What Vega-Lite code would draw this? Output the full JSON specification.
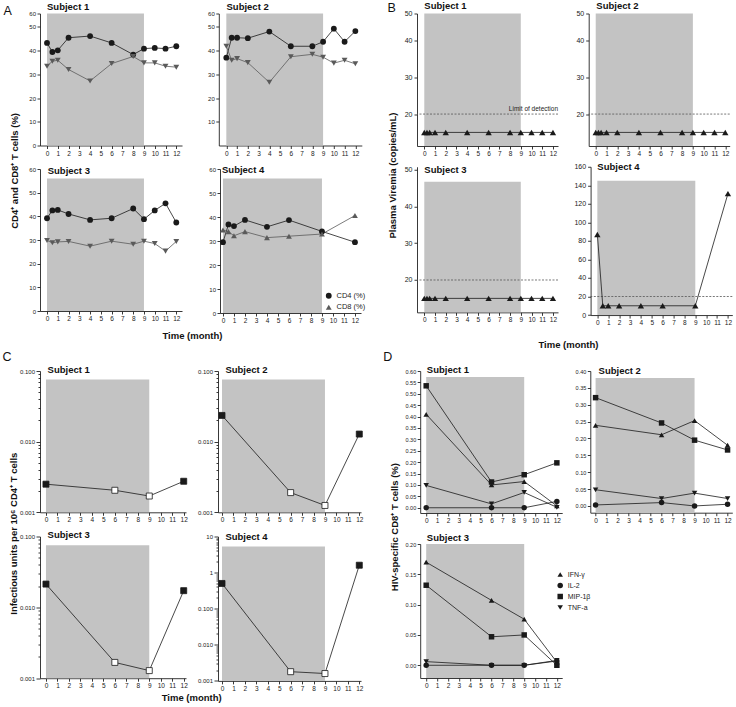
{
"$schema":"https://vega.github.io/schema/vega-lite/v6.json",
"padding":{"left":2,"top":0.5,"right":2,"bottom":2},
"datasets":{
"art":[{"start":0,"end":9}],
"limit":[{"limit":20,"label":"Limit of detection"}],
"cd":[
{"subject":1,"month":0,"series":"CD4 (%)","value":43.2},{"subject":1,"month":0.5,"series":"CD4 (%)","value":39.4},{"subject":1,"month":1,"series":"CD4 (%)","value":40.1},{"subject":1,"month":2,"series":"CD4 (%)","value":45.4},{"subject":1,"month":4,"series":"CD4 (%)","value":46.1},{"subject":1,"month":6,"series":"CD4 (%)","value":43.2},{"subject":1,"month":8,"series":"CD4 (%)","value":38.3},{"subject":1,"month":9,"series":"CD4 (%)","value":40.8},{"subject":1,"month":10,"series":"CD4 (%)","value":41.1},{"subject":1,"month":11,"series":"CD4 (%)","value":40.8},{"subject":1,"month":12,"series":"CD4 (%)","value":41.8},
{"subject":1,"month":0,"series":"CD8 (%)","value":33.4},{"subject":1,"month":0.5,"series":"CD8 (%)","value":35.5},{"subject":1,"month":1,"series":"CD8 (%)","value":35.9},{"subject":1,"month":2,"series":"CD8 (%)","value":32.0},{"subject":1,"month":4,"series":"CD8 (%)","value":27.2},{"subject":1,"month":6,"series":"CD8 (%)","value":34.5},{"subject":1,"month":8,"series":"CD8 (%)","value":37.5},{"subject":1,"month":9,"series":"CD8 (%)","value":34.8},{"subject":1,"month":10,"series":"CD8 (%)","value":34.8},{"subject":1,"month":11,"series":"CD8 (%)","value":33.4},{"subject":1,"month":12,"series":"CD8 (%)","value":33.0},
{"subject":2,"month":0,"series":"CD4 (%)","value":37.0},{"subject":2,"month":0.5,"series":"CD4 (%)","value":45.4},{"subject":2,"month":1,"series":"CD4 (%)","value":45.4},{"subject":2,"month":2,"series":"CD4 (%)","value":45.2},{"subject":2,"month":4,"series":"CD4 (%)","value":48.0},{"subject":2,"month":6,"series":"CD4 (%)","value":41.8},{"subject":2,"month":8,"series":"CD4 (%)","value":41.8},{"subject":2,"month":9,"series":"CD4 (%)","value":43.7},{"subject":2,"month":10,"series":"CD4 (%)","value":49.2},{"subject":2,"month":11,"series":"CD4 (%)","value":43.7},{"subject":2,"month":12,"series":"CD4 (%)","value":48.2},
{"subject":2,"month":0,"series":"CD8 (%)","value":41.8},{"subject":2,"month":0.5,"series":"CD8 (%)","value":35.9},{"subject":2,"month":1,"series":"CD8 (%)","value":36.6},{"subject":2,"month":2,"series":"CD8 (%)","value":34.9},{"subject":2,"month":4,"series":"CD8 (%)","value":26.6},{"subject":2,"month":6,"series":"CD8 (%)","value":37.4},{"subject":2,"month":8,"series":"CD8 (%)","value":38.4},{"subject":2,"month":9,"series":"CD8 (%)","value":37.2},{"subject":2,"month":10,"series":"CD8 (%)","value":34.7},{"subject":2,"month":11,"series":"CD8 (%)","value":35.9},{"subject":2,"month":12,"series":"CD8 (%)","value":34.4},
{"subject":3,"month":0,"series":"CD4 (%)","value":39.2},{"subject":3,"month":0.5,"series":"CD4 (%)","value":42.5},{"subject":3,"month":1,"series":"CD4 (%)","value":42.7},{"subject":3,"month":2,"series":"CD4 (%)","value":41.0},{"subject":3,"month":4,"series":"CD4 (%)","value":38.5},{"subject":3,"month":6,"series":"CD4 (%)","value":39.2},{"subject":3,"month":8,"series":"CD4 (%)","value":43.3},{"subject":3,"month":9,"series":"CD4 (%)","value":38.8},{"subject":3,"month":10,"series":"CD4 (%)","value":42.5},{"subject":3,"month":11,"series":"CD4 (%)","value":45.5},{"subject":3,"month":12,"series":"CD4 (%)","value":37.4},
{"subject":3,"month":0,"series":"CD8 (%)","value":29.8},{"subject":3,"month":0.5,"series":"CD8 (%)","value":28.8},{"subject":3,"month":1,"series":"CD8 (%)","value":29.2},{"subject":3,"month":2,"series":"CD8 (%)","value":29.4},{"subject":3,"month":4,"series":"CD8 (%)","value":27.4},{"subject":3,"month":6,"series":"CD8 (%)","value":29.5},{"subject":3,"month":8,"series":"CD8 (%)","value":28.2},{"subject":3,"month":9,"series":"CD8 (%)","value":29.5},{"subject":3,"month":10,"series":"CD8 (%)","value":28.5},{"subject":3,"month":11,"series":"CD8 (%)","value":25.3},{"subject":3,"month":12,"series":"CD8 (%)","value":29.4},
{"subject":4,"month":0,"series":"CD4 (%)","value":29.5},{"subject":4,"month":0.5,"series":"CD4 (%)","value":36.9},{"subject":4,"month":1,"series":"CD4 (%)","value":36.2},{"subject":4,"month":2,"series":"CD4 (%)","value":38.8},{"subject":4,"month":4,"series":"CD4 (%)","value":35.9},{"subject":4,"month":6,"series":"CD4 (%)","value":38.7},{"subject":4,"month":9,"series":"CD4 (%)","value":34.0},{"subject":4,"month":12,"series":"CD4 (%)","value":29.5},
{"subject":4,"month":0,"series":"CD8 (%)","value":34.6},{"subject":4,"month":0.5,"series":"CD8 (%)","value":33.9},{"subject":4,"month":1,"series":"CD8 (%)","value":32.2},{"subject":4,"month":2,"series":"CD8 (%)","value":33.9},{"subject":4,"month":4,"series":"CD8 (%)","value":31.4},{"subject":4,"month":6,"series":"CD8 (%)","value":32.0},{"subject":4,"month":9,"series":"CD8 (%)","value":32.9},{"subject":4,"month":12,"series":"CD8 (%)","value":40.6}
],
"vir":[
{"subject":1,"month":0,"value":15},{"subject":1,"month":0.25,"value":15},{"subject":1,"month":0.5,"value":15},{"subject":1,"month":1,"value":15},{"subject":1,"month":2,"value":15},{"subject":1,"month":4,"value":15},{"subject":1,"month":6,"value":15},{"subject":1,"month":8,"value":15},{"subject":1,"month":9,"value":15},{"subject":1,"month":10,"value":15},{"subject":1,"month":11,"value":15},{"subject":1,"month":12,"value":15},
{"subject":2,"month":0,"value":15},{"subject":2,"month":0.25,"value":15},{"subject":2,"month":0.5,"value":15},{"subject":2,"month":1,"value":15},{"subject":2,"month":2,"value":15},{"subject":2,"month":4,"value":15},{"subject":2,"month":6,"value":15},{"subject":2,"month":8,"value":15},{"subject":2,"month":9,"value":15},{"subject":2,"month":10,"value":15},{"subject":2,"month":11,"value":15},{"subject":2,"month":12,"value":15},
{"subject":3,"month":0,"value":15},{"subject":3,"month":0.25,"value":15},{"subject":3,"month":0.5,"value":15},{"subject":3,"month":1,"value":15},{"subject":3,"month":2,"value":15},{"subject":3,"month":4,"value":15},{"subject":3,"month":6,"value":15},{"subject":3,"month":8,"value":15},{"subject":3,"month":9,"value":15},{"subject":3,"month":10,"value":15},{"subject":3,"month":11,"value":15},{"subject":3,"month":12,"value":15},
{"subject":4,"month":0,"value":87},{"subject":4,"month":0.5,"value":10},{"subject":4,"month":1,"value":10},{"subject":4,"month":2,"value":10},{"subject":4,"month":4,"value":10},{"subject":4,"month":6,"value":10},{"subject":4,"month":9,"value":10},{"subject":4,"month":12,"value":131}
],
"iu":[
{"subject":1,"month":0,"value":0.0025,"detected":"yes"},{"subject":1,"month":6,"value":0.00205,"detected":"no"},{"subject":1,"month":9,"value":0.0017,"detected":"no"},{"subject":1,"month":12,"value":0.00275,"detected":"yes"},
{"subject":2,"month":0,"value":0.0235,"detected":"yes"},{"subject":2,"month":6,"value":0.0019,"detected":"no"},{"subject":2,"month":9,"value":0.00125,"detected":"no"},{"subject":2,"month":12,"value":0.0128,"detected":"yes"},
{"subject":3,"month":0,"value":0.0213,"detected":"yes"},{"subject":3,"month":6,"value":0.00167,"detected":"no"},{"subject":3,"month":9,"value":0.00128,"detected":"no"},{"subject":3,"month":12,"value":0.0172,"detected":"yes"},
{"subject":4,"month":0,"value":0.5,"detected":"yes"},{"subject":4,"month":6,"value":0.0018,"detected":"no"},{"subject":4,"month":9,"value":0.0016,"detected":"no"},{"subject":4,"month":12,"value":1.6,"detected":"yes"}
],
"cyto":[
{"subject":1,"month":0,"cytokine":"IFN-γ","value":0.41},{"subject":1,"month":6,"cytokine":"IFN-γ","value":0.10},{"subject":1,"month":9,"cytokine":"IFN-γ","value":0.115},{"subject":1,"month":12,"cytokine":"IFN-γ","value":0.008},
{"subject":1,"month":0,"cytokine":"IL-2","value":0},{"subject":1,"month":6,"cytokine":"IL-2","value":0},{"subject":1,"month":9,"cytokine":"IL-2","value":0},{"subject":1,"month":12,"cytokine":"IL-2","value":0.028},
{"subject":1,"month":0,"cytokine":"MIP-1β","value":0.535},{"subject":1,"month":6,"cytokine":"MIP-1β","value":0.113},{"subject":1,"month":9,"cytokine":"MIP-1β","value":0.145},{"subject":1,"month":12,"cytokine":"MIP-1β","value":0.197},
{"subject":1,"month":0,"cytokine":"TNF-a","value":0.098},{"subject":1,"month":6,"cytokine":"TNF-a","value":0.017},{"subject":1,"month":9,"cytokine":"TNF-a","value":0.067},{"subject":1,"month":12,"cytokine":"TNF-a","value":0.002},
{"subject":2,"month":0,"cytokine":"IFN-γ","value":0.239},{"subject":2,"month":6,"cytokine":"IFN-γ","value":0.211},{"subject":2,"month":9,"cytokine":"IFN-γ","value":0.253},{"subject":2,"month":12,"cytokine":"IFN-γ","value":0.18},
{"subject":2,"month":0,"cytokine":"IL-2","value":0.003},{"subject":2,"month":6,"cytokine":"IL-2","value":0.01},{"subject":2,"month":9,"cytokine":"IL-2","value":0.0},{"subject":2,"month":12,"cytokine":"IL-2","value":0.005},
{"subject":2,"month":0,"cytokine":"MIP-1β","value":0.321},{"subject":2,"month":6,"cytokine":"MIP-1β","value":0.246},{"subject":2,"month":9,"cytokine":"MIP-1β","value":0.195},{"subject":2,"month":12,"cytokine":"MIP-1β","value":0.166},
{"subject":2,"month":0,"cytokine":"TNF-a","value":0.048},{"subject":2,"month":6,"cytokine":"TNF-a","value":0.022},{"subject":2,"month":9,"cytokine":"TNF-a","value":0.038},{"subject":2,"month":12,"cytokine":"TNF-a","value":0.022},
{"subject":3,"month":0,"cytokine":"IFN-γ","value":0.17},{"subject":3,"month":6,"cytokine":"IFN-γ","value":0.107},{"subject":3,"month":9,"cytokine":"IFN-γ","value":0.076},{"subject":3,"month":12,"cytokine":"IFN-γ","value":0.005},
{"subject":3,"month":0,"cytokine":"IL-2","value":0},{"subject":3,"month":6,"cytokine":"IL-2","value":0},{"subject":3,"month":9,"cytokine":"IL-2","value":0},{"subject":3,"month":12,"cytokine":"IL-2","value":0.007},
{"subject":3,"month":0,"cytokine":"MIP-1β","value":0.132},{"subject":3,"month":6,"cytokine":"MIP-1β","value":0.047},{"subject":3,"month":9,"cytokine":"MIP-1β","value":0.05},{"subject":3,"month":12,"cytokine":"MIP-1β","value":0.0},
{"subject":3,"month":0,"cytokine":"TNF-a","value":0.006},{"subject":3,"month":6,"cytokine":"TNF-a","value":0.0},{"subject":3,"month":9,"cytokine":"TNF-a","value":0.0},{"subject":3,"month":12,"cytokine":"TNF-a","value":0.008}
]
},
"config":{
"font":"Liberation Sans",
"view":{"stroke":null},
"axis":{"grid":false,"minExtent":0,"domainColor":"#222222","tickColor":"#222222","labelColor":"#222222","labelFontSize":6.5,"tickSize":3,"labelPadding":1.5,"domainWidth":0.9,"tickWidth":0.9,"labelOverlap":false,"labelFlush":false,"titleFontSize":9.5,"titleFontWeight":"bold","titleColor":"#111111","titlePadding":2},
"axisX":{"minExtent":0},
"axisY":{"minExtent":0},
"title":{"fontSize":9.5,"fontWeight":"bold","color":"#111111","anchor":"start","frame":"group","baseline":"alphabetic"},
"legend":{"labelFontSize":7,"labelColor":"#222222","padding":0,"rowPadding":4,"labelOffset":4,"symbolStrokeWidth":0}
},
"resolve":{"scale":{"color":"independent","shape":"independent","fill":"independent"}},
"spacing":-0.5,
"vconcat":[
{"hconcat":[
 {"title":{"text":"A","orient":"top","anchor":"start","frame":"bounds","fontSize":12.5,"fontWeight":"normal","offset":-15.4,"dx":-6.3},
  "resolve":{"scale":{"color":"independent","shape":"independent","fill":"independent"}},
  "vconcat":[
  {"title":{"text":"CD4⁺ and CD8⁺ T cells (%)","orient":"left","anchor":"middle","frame":"bounds","baseline":"bottom","offset":-0.4},
   "resolve":{"scale":{"color":"independent","shape":"independent","fill":"independent"}},
   "vconcat":[
   {"title":{"text":"Time (month)","orient":"bottom","anchor":"middle","frame":"bounds","baseline":"top","offset":6.5,"dx":-5},
    "resolve":{"scale":{"color":"independent","shape":"independent","fill":"independent"}},
    "spacing":7.5,
    "vconcat":[
     {"hconcat":[
      {"width":142,"height":132,"title":{"text":"Subject 1","offset":-0.75,"dx":7},
       "layer":[
        {"data":{"name":"art"},"mark":{"type":"rect","color":"#c3c3c3"},"encoding":{
          "x":{"field":"start","type":"quantitative","scale":{"domain":[-0.65,12.53],"nice":false,"zero":false},"axis":{"values":[0,1,2,3,4,5,6,7,8,9,10,11,12],"tickCount":100,"format":"d","title":null,"labelOverlap":false}},
          "x2":{"field":"end"},
          "y":{"datum":0,"type":"quantitative","scale":{"domain":[0,55.6],"nice":false,"zero":false},"axis":{"values":[0,10,20,30,40,50,55.6],"tickCount":100,"format":"d","labelExpr":"datum.value > 55 ? '60' : datum.label","title":null,"labelFontSize":6,"labelOverlap":false}},
          "y2":{"datum":55.6}}},
        {"data":{"name":"cd"},"transform":[{"filter":"datum.subject == 1 && datum.series == 'CD4 (%)'"}],"mark":{"type":"line","strokeWidth":0.8,"color":"#1a1a1a"},"encoding":{"x":{"field":"month","type":"quantitative","title":null},"y":{"field":"value","type":"quantitative","title":null}}},
        {"data":{"name":"cd"},"transform":[{"filter":"datum.subject == 1 && datum.series == 'CD8 (%)'"}],"mark":{"type":"line","strokeWidth":0.8,"color":"#5a5a5a"},"encoding":{"x":{"field":"month","type":"quantitative","title":null},"y":{"field":"value","type":"quantitative","title":null}}},
        {"data":{"name":"cd"},"transform":[{"filter":"datum.subject == 1"}],"mark":{"type":"point","filled":true,"size":34,"opacity":1},"encoding":{
          "x":{"field":"month","type":"quantitative","title":null},"y":{"field":"value","type":"quantitative","title":null},
          "color":{"field":"series","type":"nominal","scale":{"domain":["CD4 (%)","CD8 (%)"],"range":["#1a1a1a","#5a5a5a"]},"legend":null},
          "shape":{"field":"series","type":"nominal","scale":{"domain":["CD4 (%)","CD8 (%)"],"range":["circle","triangle-down"]},"legend":null}}}
       ]},
      {"width":143,"height":132,"title":{"text":"Subject 2","offset":-0.75,"dx":7.7},
       "layer":[
        {"data":{"name":"art"},"mark":{"type":"rect","color":"#c3c3c3"},"encoding":{
          "x":{"field":"start","type":"quantitative","scale":{"domain":[-0.7,12.6],"nice":false,"zero":false},"axis":{"values":[0,1,2,3,4,5,6,7,8,9,10,11,12],"tickCount":100,"format":"d","title":null,"labelOverlap":false}},
          "x2":{"field":"end"},
          "y":{"datum":0,"type":"quantitative","scale":{"domain":[0,55.6],"nice":false,"zero":false},"axis":{"values":[10,20,30,40,50,55.6],"tickCount":100,"format":"d","labelExpr":"datum.value > 55 ? '60' : datum.label","title":null,"labelFontSize":6,"labelOverlap":false}},
          "y2":{"datum":55.6}}},
        {"data":{"name":"cd"},"transform":[{"filter":"datum.subject == 2 && datum.series == 'CD4 (%)'"}],"mark":{"type":"line","strokeWidth":0.8,"color":"#1a1a1a"},"encoding":{"x":{"field":"month","type":"quantitative","title":null},"y":{"field":"value","type":"quantitative","title":null}}},
        {"data":{"name":"cd"},"transform":[{"filter":"datum.subject == 2 && datum.series == 'CD8 (%)'"}],"mark":{"type":"line","strokeWidth":0.8,"color":"#5a5a5a"},"encoding":{"x":{"field":"month","type":"quantitative","title":null},"y":{"field":"value","type":"quantitative","title":null}}},
        {"data":{"name":"cd"},"transform":[{"filter":"datum.subject == 2"}],"mark":{"type":"point","filled":true,"size":34,"opacity":1},"encoding":{
          "x":{"field":"month","type":"quantitative","title":null},"y":{"field":"value","type":"quantitative","title":null},
          "color":{"field":"series","type":"nominal","scale":{"domain":["CD4 (%)","CD8 (%)"],"range":["#1a1a1a","#5a5a5a"]},"legend":null},
          "shape":{"field":"series","type":"nominal","scale":{"domain":["CD4 (%)","CD8 (%)"],"range":["circle","triangle-down"]},"legend":null}}}
       ]}
     ],"spacing":24.8,"resolve":{"scale":{"color":"independent","shape":"independent","fill":"independent"}}},
     {"hconcat":[
      {"width":142,"height":142,"title":{"text":"Subject 3","offset":-9.65,"dx":7.7},
       "layer":[
        {"data":{"name":"art"},"mark":{"type":"rect","color":"#c3c3c3"},"encoding":{
          "x":{"field":"start","type":"quantitative","scale":{"domain":[-0.65,12.53],"nice":false,"zero":false},"axis":{"values":[0,1,2,3,4,5,6,7,8,9,10,11,12],"tickCount":100,"format":"d","title":null,"labelOverlap":false}},
          "x2":{"field":"end"},
          "y":{"datum":0,"type":"quantitative","scale":{"domain":[0,60],"nice":false,"zero":false},"axis":{"values":[0,10,20,30,40,50,60],"tickCount":100,"format":"d","title":null,"labelFontSize":6,"labelOverlap":false}},
          "y2":{"datum":56}}},
        {"data":{"name":"cd"},"transform":[{"filter":"datum.subject == 3 && datum.series == 'CD4 (%)'"}],"mark":{"type":"line","strokeWidth":0.8,"color":"#1a1a1a"},"encoding":{"x":{"field":"month","type":"quantitative","title":null},"y":{"field":"value","type":"quantitative","title":null}}},
        {"data":{"name":"cd"},"transform":[{"filter":"datum.subject == 3 && datum.series == 'CD8 (%)'"}],"mark":{"type":"line","strokeWidth":0.8,"color":"#5a5a5a"},"encoding":{"x":{"field":"month","type":"quantitative","title":null},"y":{"field":"value","type":"quantitative","title":null}}},
        {"data":{"name":"cd"},"transform":[{"filter":"datum.subject == 3"}],"mark":{"type":"point","filled":true,"size":34,"opacity":1},"encoding":{
          "x":{"field":"month","type":"quantitative","title":null},"y":{"field":"value","type":"quantitative","title":null},
          "color":{"field":"series","type":"nominal","scale":{"domain":["CD4 (%)","CD8 (%)"],"range":["#1a1a1a","#5a5a5a"]},"legend":null},
          "shape":{"field":"series","type":"nominal","scale":{"domain":["CD4 (%)","CD8 (%)"],"range":["circle","triangle-down"]},"legend":null}}}
       ]},
      {"width":141,"height":144,"title":{"text":"Subject 4","offset":-8.25,"dx":2},
       "layer":[
        {"data":{"name":"art"},"mark":{"type":"rect","color":"#c3c3c3"},"encoding":{
          "x":{"field":"start","type":"quantitative","scale":{"domain":[-0.27,12.55],"nice":false,"zero":false},"axis":{"values":[0,1,2,3,4,5,6,7,8,9,10,11,12],"tickCount":100,"format":"d","title":null,"labelOverlap":false}},
          "x2":{"field":"end"},
          "y":{"datum":0,"type":"quantitative","scale":{"domain":[0,60],"nice":false,"zero":false},"axis":{"values":[0,10,20,30,40,50,60],"tickCount":100,"format":"d","title":null,"labelFontSize":6,"labelOverlap":false}},
          "y2":{"datum":56}}},
        {"data":{"name":"cd"},"transform":[{"filter":"datum.subject == 4 && datum.series == 'CD4 (%)'"}],"mark":{"type":"line","strokeWidth":0.8,"color":"#1a1a1a"},"encoding":{"x":{"field":"month","type":"quantitative","title":null},"y":{"field":"value","type":"quantitative","title":null}}},
        {"data":{"name":"cd"},"transform":[{"filter":"datum.subject == 4 && datum.series == 'CD8 (%)'"}],"mark":{"type":"line","strokeWidth":0.8,"color":"#5a5a5a"},"encoding":{"x":{"field":"month","type":"quantitative","title":null},"y":{"field":"value","type":"quantitative","title":null}}},
        {"data":{"name":"cd"},"transform":[{"filter":"datum.subject == 4"}],"mark":{"type":"point","filled":true,"size":34,"opacity":1},"encoding":{
          "x":{"field":"month","type":"quantitative","title":null},"y":{"field":"value","type":"quantitative","title":null},
          "color":{"field":"series","type":"nominal","scale":{"domain":["CD4 (%)","CD8 (%)"],"range":["#1a1a1a","#5a5a5a"]},"legend":{"orient":"none","legendX":105,"legendY":123,"title":null,"symbolSize":34,"labelFontSize":7.5,"labelColor":"#222222","rowPadding":2.5}},
          "shape":{"field":"series","type":"nominal","scale":{"domain":["CD4 (%)","CD8 (%)"],"range":["circle","triangle-up"]},"legend":{"orient":"none","legendX":105,"legendY":123,"title":null,"symbolSize":34,"labelFontSize":7.5,"labelColor":"#222222","rowPadding":2.5}}}}
       ]}
     ],"spacing":26,"resolve":{"scale":{"color":"independent","shape":"independent","fill":"independent"}}}
    ]}
   ]}
  ]},
 {"title":{"text":"B","orient":"top","anchor":"start","frame":"bounds","fontSize":12.5,"fontWeight":"normal","offset":-12.9,"dx":0},
  "resolve":{"scale":{"color":"independent","shape":"independent","fill":"independent"}},
  "vconcat":[
  {"title":{"text":"Plasma Viremia (copies/mL)","orient":"left","anchor":"middle","frame":"bounds","baseline":"bottom","offset":-2.8},
   "resolve":{"scale":{"color":"independent","shape":"independent","fill":"independent"}},
   "vconcat":[
   {"title":{"text":"Time (month)","orient":"bottom","anchor":"middle","frame":"bounds","baseline":"top","offset":14},
    "resolve":{"scale":{"color":"independent","shape":"independent","fill":"independent"}},
    "spacing":4.25,
    "vconcat":[
     {"hconcat":[
      {"width":141,"height":132.5,"title":{"text":"Subject 1","offset":-1.45,"dx":7.3},
       "layer":[
        {"data":{"name":"art"},"mark":{"type":"rect","color":"#c3c3c3"},"encoding":{
          "x":{"field":"start","type":"quantitative","scale":{"domain":[-0.68,12.47],"nice":false,"zero":false},"axis":{"values":[0,1,2,3,4,5,6,7,8,9,10,11,12],"tickCount":100,"format":"d","title":null,"labelOverlap":false}},
          "x2":{"field":"end"},
          "y":{"datum":11.3,"type":"quantitative","scale":{"domain":[11.3,47.4],"nice":false,"zero":false},"axis":{"values":[20,30,40,47.4],"tickCount":100,"format":"d","labelExpr":"datum.value > 47 ? '50' : datum.label","title":null,"labelFontSize":7,"labelPadding":2,"labelOverlap":false}},
          "y2":{"datum":47.4}}},
        {"data":{"name":"limit"},"mark":{"type":"rule","color":"#555555","strokeWidth":0.8,"strokeDash":[2,1.5]},"encoding":{"y":{"field":"limit","type":"quantitative","title":null}}},
        {"data":{"name":"limit"},"mark":{"type":"text","align":"right","baseline":"bottom","dy":-2,"fontSize":6.5,"color":"#222222"},"encoding":{"x":{"datum":12.47,"type":"quantitative"},"y":{"field":"limit","type":"quantitative","title":null},"text":{"field":"label"}}},
        {"data":{"name":"vir"},"transform":[{"filter":"datum.subject == 1"}],"mark":{"type":"line","color":"#1a1a1a","strokeWidth":0.8},"encoding":{"x":{"field":"month","type":"quantitative","title":null},"y":{"field":"value","type":"quantitative","title":null}}},
        {"data":{"name":"vir"},"transform":[{"filter":"datum.subject == 1"}],"mark":{"type":"point","shape":"triangle-up","filled":true,"size":40,"color":"#1a1a1a","opacity":1},"encoding":{"x":{"field":"month","type":"quantitative","title":null},"y":{"field":"value","type":"quantitative","title":null}}}
       ]},
      {"width":141,"height":132.5,"title":{"text":"Subject 2","offset":-1.45,"dx":7.6},
       "layer":[
        {"data":{"name":"art"},"mark":{"type":"rect","color":"#c3c3c3"},"encoding":{
          "x":{"field":"start","type":"quantitative","scale":{"domain":[-0.65,12.41],"nice":false,"zero":false},"axis":{"values":[0,1,2,3,4,5,6,7,8,9,10,11,12],"tickCount":100,"format":"d","title":null,"labelOverlap":false}},
          "x2":{"field":"end"},
          "y":{"datum":11.3,"type":"quantitative","scale":{"domain":[11.3,47.4],"nice":false,"zero":false},"axis":{"values":[20,30,40,47.4],"tickCount":100,"format":"d","labelExpr":"datum.value > 47 ? '50' : datum.label","title":null,"labelFontSize":7,"labelPadding":2,"labelOverlap":false}},
          "y2":{"datum":47.4}}},
        {"data":{"name":"limit"},"mark":{"type":"rule","color":"#555555","strokeWidth":0.8,"strokeDash":[2,1.5]},"encoding":{"y":{"field":"limit","type":"quantitative","title":null}}},
        {"data":{"name":"vir"},"transform":[{"filter":"datum.subject == 2"}],"mark":{"type":"line","color":"#1a1a1a","strokeWidth":0.8},"encoding":{"x":{"field":"month","type":"quantitative","title":null},"y":{"field":"value","type":"quantitative","title":null}}},
        {"data":{"name":"vir"},"transform":[{"filter":"datum.subject == 2"}],"mark":{"type":"point","shape":"triangle-up","filled":true,"size":40,"color":"#1a1a1a","opacity":1},"encoding":{"x":{"field":"month","type":"quantitative","title":null},"y":{"field":"value","type":"quantitative","title":null}}}
       ]}
     ],"spacing":16.7,"resolve":{"scale":{"color":"independent","shape":"independent","fill":"independent"}}},
     {"hconcat":[
      {"width":141,"height":145.6,"title":{"text":"Subject 3","offset":-9.25,"dx":7.3},
       "layer":[
        {"data":{"name":"art"},"mark":{"type":"rect","color":"#c3c3c3"},"encoding":{
          "x":{"field":"start","type":"quantitative","scale":{"domain":[-0.68,12.47],"nice":false,"zero":false},"axis":{"values":[0,1,2,3,4,5,6,7,8,9,10,11,12],"tickCount":100,"format":"d","title":null,"labelOverlap":false}},
          "x2":{"field":"end"},
          "y":{"datum":11.2,"type":"quantitative","scale":{"domain":[11.2,50.8],"nice":false,"zero":false},"axis":{"values":[20,30,40,50],"tickCount":100,"format":"d","title":null,"labelFontSize":7,"labelPadding":2,"labelOverlap":false}},
          "y2":{"datum":46.7}}},
        {"data":{"name":"limit"},"mark":{"type":"rule","color":"#555555","strokeWidth":0.8,"strokeDash":[2,1.5]},"encoding":{"y":{"field":"limit","type":"quantitative","title":null}}},
        {"data":{"name":"vir"},"transform":[{"filter":"datum.subject == 3"}],"mark":{"type":"line","color":"#1a1a1a","strokeWidth":0.8},"encoding":{"x":{"field":"month","type":"quantitative","title":null},"y":{"field":"value","type":"quantitative","title":null}}},
        {"data":{"name":"vir"},"transform":[{"filter":"datum.subject == 3"}],"mark":{"type":"point","shape":"triangle-up","filled":true,"size":40,"color":"#1a1a1a","opacity":1},"encoding":{"x":{"field":"month","type":"quantitative","title":null},"y":{"field":"value","type":"quantitative","title":null}}}
       ]},
      {"width":141.7,"height":148.3,"title":{"text":"Subject 4","offset":-8.85,"dx":6.7},
       "layer":[
        {"data":{"name":"art"},"mark":{"type":"rect","color":"#c3c3c3"},"encoding":{
          "x":{"field":"start","type":"quantitative","scale":{"domain":[-0.62,12.4],"nice":false,"zero":false},"axis":{"values":[0,1,2,3,4,5,6,7,8,9,10,11,12],"tickCount":100,"format":"d","title":null,"labelOverlap":false}},
          "x2":{"field":"end"},
          "y":{"datum":0,"type":"quantitative","scale":{"domain":[0,160],"nice":false,"zero":false},"axis":{"values":[0,20,40,60,80,100,120,140,160],"tickCount":100,"format":"d","title":null,"labelFontSize":7,"labelPadding":2,"labelOverlap":false}},
          "y2":{"datum":145}}},
        {"data":{"name":"limit"},"mark":{"type":"rule","color":"#555555","strokeWidth":0.8,"strokeDash":[2,1.5]},"encoding":{"y":{"field":"limit","type":"quantitative","title":null}}},
        {"data":{"name":"vir"},"transform":[{"filter":"datum.subject == 4"}],"mark":{"type":"line","color":"#1a1a1a","strokeWidth":0.8},"encoding":{"x":{"field":"month","type":"quantitative","title":null},"y":{"field":"value","type":"quantitative","title":null}}},
        {"data":{"name":"vir"},"transform":[{"filter":"datum.subject == 4"}],"mark":{"type":"point","shape":"triangle-up","filled":true,"size":40,"color":"#1a1a1a","opacity":1},"encoding":{"x":{"field":"month","type":"quantitative","title":null},"y":{"field":"value","type":"quantitative","title":null}}}
       ]}
     ],"spacing":14.6,"resolve":{"scale":{"color":"independent","shape":"independent","fill":"independent"}}}
    ]}
   ]}
  ]}
],"spacing":21,"resolve":{"scale":{"color":"independent","shape":"independent","fill":"independent"}}},
{"hconcat":[
 {"title":{"text":"C","orient":"top","anchor":"start","frame":"bounds","fontSize":12.5,"fontWeight":"normal","offset":2,"dx":-6.3},
  "resolve":{"scale":{"color":"independent","shape":"independent","fill":"independent"}},
  "vconcat":[
  {"title":{"text":"Infectious units per 10⁶ CD4⁺ T cells","orient":"left","anchor":"middle","frame":"bounds","baseline":"bottom","offset":-8.9},
   "resolve":{"scale":{"color":"independent","shape":"independent","fill":"independent"}},
   "vconcat":[
   {"title":{"text":"Time (month)","orient":"bottom","anchor":"middle","frame":"bounds","baseline":"top","offset":1},
    "resolve":{"scale":{"color":"independent","shape":"independent","fill":"independent"}},
    "spacing":5.5,
    "vconcat":[
     {"hconcat":[
      {"width":146,"height":141.3,"title":{"text":"Subject 1","offset":-6.55,"dx":7.6},
       "layer":[
        {"data":{"name":"art"},"mark":{"type":"rect","color":"#c3c3c3"},"encoding":{
          "x":{"field":"start","type":"quantitative","scale":{"domain":[-0.52,12.2],"nice":false,"zero":false},"axis":{"values":[0,1,2,3,4,5,6,7,8,9,10,11,12],"tickCount":100,"format":"d","title":null,"labelOverlap":false}},
          "x2":{"field":"end"},
          "y":{"datum":0.001,"type":"quantitative","scale":{"type":"log","domain":[0.001,0.1],"nice":false},"axis":{"values":[0.001,0.002,0.003,0.004,0.005,0.006,0.007,0.008,0.009,0.01,0.02,0.03,0.04,0.05,0.06,0.07,0.08,0.09,0.1],"tickCount":100,"labelExpr":"indexof([0.001,0.01,0.1,1,10], datum.value) >= 0 ? (datum.value >= 1 ? format(datum.value, 'd') : format(datum.value, '.3f')) : ''","tickSize":{"condition":{"test":"indexof([0.001,0.01,0.1,1,10], datum.value) >= 0","value":4},"value":2},"title":null,"labelFontSize":6,"labelOverlap":false}},
          "y2":{"datum":0.076}}},
        {"data":{"name":"iu"},"transform":[{"filter":"datum.subject == 1"}],"mark":{"type":"line","color":"#1a1a1a","strokeWidth":0.8},"encoding":{"x":{"field":"month","type":"quantitative","title":null},"y":{"field":"value","type":"quantitative","title":null}}},
        {"data":{"name":"iu"},"transform":[{"filter":"datum.subject == 1"}],"mark":{"type":"point","shape":"square","filled":true,"size":36,"stroke":"#1a1a1a","strokeWidth":0.8,"opacity":1},"encoding":{"x":{"field":"month","type":"quantitative","title":null},"y":{"field":"value","type":"quantitative","title":null},"fill":{"field":"detected","type":"nominal","scale":{"domain":["yes","no"],"range":["#1a1a1a","#ffffff"]},"legend":null}}}
       ]},
      {"width":143,"height":141.3,"title":{"text":"Subject 2","offset":-6.55,"dx":7.4},
       "layer":[
        {"data":{"name":"art"},"mark":{"type":"rect","color":"#c3c3c3"},"encoding":{
          "x":{"field":"start","type":"quantitative","scale":{"domain":[-0.35,12.15],"nice":false,"zero":false},"axis":{"values":[0,1,2,3,4,5,6,7,8,9,10,11,12],"tickCount":100,"format":"d","title":null,"labelOverlap":false}},
          "x2":{"field":"end"},
          "y":{"datum":0.001,"type":"quantitative","scale":{"type":"log","domain":[0.001,0.1],"nice":false},"axis":{"values":[0.001,0.002,0.003,0.004,0.005,0.006,0.007,0.008,0.009,0.01,0.02,0.03,0.04,0.05,0.06,0.07,0.08,0.09,0.1],"tickCount":100,"labelExpr":"indexof([0.001,0.01,0.1,1,10], datum.value) >= 0 ? (datum.value >= 1 ? format(datum.value, 'd') : format(datum.value, '.3f')) : ''","tickSize":{"condition":{"test":"indexof([0.001,0.01,0.1,1,10], datum.value) >= 0","value":4},"value":2},"title":null,"labelFontSize":6,"labelOverlap":false}},
          "y2":{"datum":0.076}}},
        {"data":{"name":"iu"},"transform":[{"filter":"datum.subject == 2"}],"mark":{"type":"line","color":"#1a1a1a","strokeWidth":0.8},"encoding":{"x":{"field":"month","type":"quantitative","title":null},"y":{"field":"value","type":"quantitative","title":null}}},
        {"data":{"name":"iu"},"transform":[{"filter":"datum.subject == 2"}],"mark":{"type":"point","shape":"square","filled":true,"size":36,"stroke":"#1a1a1a","strokeWidth":0.8,"opacity":1},"encoding":{"x":{"field":"month","type":"quantitative","title":null},"y":{"field":"value","type":"quantitative","title":null},"fill":{"field":"detected","type":"nominal","scale":{"domain":["yes","no"],"range":["#1a1a1a","#ffffff"]},"legend":null}}}
       ]}
     ],"spacing":8,"resolve":{"scale":{"color":"independent","shape":"independent","fill":"independent"}}},
     {"hconcat":[
      {"width":146,"height":141.7,"title":{"text":"Subject 3","offset":-5.95,"dx":7.6},
       "layer":[
        {"data":{"name":"art"},"mark":{"type":"rect","color":"#c3c3c3"},"encoding":{
          "x":{"field":"start","type":"quantitative","scale":{"domain":[-0.52,12.2],"nice":false,"zero":false},"axis":{"values":[0,1,2,3,4,5,6,7,8,9,10,11,12],"tickCount":100,"format":"d","title":null,"labelOverlap":false}},
          "x2":{"field":"end"},
          "y":{"datum":0.001,"type":"quantitative","scale":{"type":"log","domain":[0.001,0.1],"nice":false},"axis":{"values":[0.001,0.002,0.003,0.004,0.005,0.006,0.007,0.008,0.009,0.01,0.02,0.03,0.04,0.05,0.06,0.07,0.08,0.09,0.1],"tickCount":100,"labelExpr":"indexof([0.001,0.01,0.1,1,10], datum.value) >= 0 ? (datum.value >= 1 ? format(datum.value, 'd') : format(datum.value, '.3f')) : ''","tickSize":{"condition":{"test":"indexof([0.001,0.01,0.1,1,10], datum.value) >= 0","value":4},"value":2},"title":null,"labelFontSize":6,"labelOverlap":false}},
          "y2":{"datum":0.075}}},
        {"data":{"name":"iu"},"transform":[{"filter":"datum.subject == 3"}],"mark":{"type":"line","color":"#1a1a1a","strokeWidth":0.8},"encoding":{"x":{"field":"month","type":"quantitative","title":null},"y":{"field":"value","type":"quantitative","title":null}}},
        {"data":{"name":"iu"},"transform":[{"filter":"datum.subject == 3"}],"mark":{"type":"point","shape":"square","filled":true,"size":36,"stroke":"#1a1a1a","strokeWidth":0.8,"opacity":1},"encoding":{"x":{"field":"month","type":"quantitative","title":null},"y":{"field":"value","type":"quantitative","title":null},"fill":{"field":"detected","type":"nominal","scale":{"domain":["yes","no"],"range":["#1a1a1a","#ffffff"]},"legend":null}}}
       ]},
      {"width":143,"height":144.4,"title":{"text":"Subject 4","offset":-7.65,"dx":7.4},
       "layer":[
        {"data":{"name":"art"},"mark":{"type":"rect","color":"#c3c3c3"},"encoding":{
          "x":{"field":"start","type":"quantitative","scale":{"domain":[-0.35,12.15],"nice":false,"zero":false},"axis":{"values":[0,1,2,3,4,5,6,7,8,9,10,11,12],"tickCount":100,"format":"d","title":null,"labelOverlap":false}},
          "x2":{"field":"end"},
          "y":{"datum":0.001,"type":"quantitative","scale":{"type":"log","domain":[0.001,10],"nice":false},"axis":{"values":[0.001,0.002,0.003,0.004,0.005,0.006,0.007,0.008,0.009,0.01,0.02,0.03,0.04,0.05,0.06,0.07,0.08,0.09,0.1,0.2,0.3,0.4,0.5,0.6,0.7,0.8,0.9,1,2,3,4,5,6,7,8,9,10],"tickCount":100,"labelExpr":"indexof([0.001,0.01,0.1,1,10], datum.value) >= 0 ? (datum.value >= 1 ? format(datum.value, 'd') : format(datum.value, '.3f')) : ''","tickSize":{"condition":{"test":"indexof([0.001,0.01,0.1,1,10], datum.value) >= 0","value":4},"value":2},"title":null,"labelFontSize":6,"labelOverlap":false}},
          "y2":{"datum":5.3}}},
        {"data":{"name":"iu"},"transform":[{"filter":"datum.subject == 4"}],"mark":{"type":"line","color":"#1a1a1a","strokeWidth":0.8},"encoding":{"x":{"field":"month","type":"quantitative","title":null},"y":{"field":"value","type":"quantitative","title":null}}},
        {"data":{"name":"iu"},"transform":[{"filter":"datum.subject == 4"}],"mark":{"type":"point","shape":"square","filled":true,"size":36,"stroke":"#1a1a1a","strokeWidth":0.8,"opacity":1},"encoding":{"x":{"field":"month","type":"quantitative","title":null},"y":{"field":"value","type":"quantitative","title":null},"fill":{"field":"detected","type":"nominal","scale":{"domain":["yes","no"],"range":["#1a1a1a","#ffffff"]},"legend":null}}}
       ]}
     ],"spacing":8,"resolve":{"scale":{"color":"independent","shape":"independent","fill":"independent"}}}
    ]}
   ]}
  ]},
 {"title":{"text":"D","orient":"top","anchor":"start","frame":"bounds","fontSize":12.5,"fontWeight":"normal","offset":2,"dx":-7},
  "resolve":{"scale":{"color":"independent","shape":"independent","fill":"independent"}},
  "vconcat":[
  {"title":{"text":"HIV-specific CD8⁺ T cells (%)","orient":"left","anchor":"middle","frame":"bounds","baseline":"bottom","offset":-4.7},
   "resolve":{"scale":{"color":"independent","shape":"independent","fill":"independent"}},
   "spacing":8,
   "vconcat":[
     {"hconcat":[
      {"width":142,"height":142,"title":{"text":"Subject 1","offset":-5.75,"dx":6.6},
       "layer":[
        {"data":{"name":"art"},"mark":{"type":"rect","color":"#c3c3c3"},"encoding":{
          "x":{"field":"start","type":"quantitative","scale":{"domain":[-0.55,12.49],"nice":false,"zero":false},"axis":{"values":[0,1,2,3,4,5,6,7,8,9,10,11,12],"tickCount":100,"format":"d","title":null,"labelOverlap":false}},
          "x2":{"field":"end"},
          "y":{"datum":-0.023,"type":"quantitative","scale":{"domain":[-0.023,0.6],"nice":false,"zero":false},"axis":{"values":[0,0.05,0.1,0.15,0.2,0.25,0.3,0.35,0.4,0.45,0.5,0.55,0.6],"tickCount":100,"format":".2f","title":null,"labelFontSize":5.5,"labelOverlap":false}},
          "y2":{"datum":0.574}}},
        {"data":{"name":"cyto"},"transform":[{"filter":"datum.subject == 1"}],"mark":{"type":"line","color":"#1a1a1a","strokeWidth":0.8},"encoding":{"x":{"field":"month","type":"quantitative","title":null},"y":{"field":"value","type":"quantitative","title":null},"detail":{"field":"cytokine"}}},
        {"data":{"name":"cyto"},"transform":[{"filter":"datum.subject == 1"}],"mark":{"type":"point","filled":true,"size":30,"color":"#1a1a1a","opacity":1},"encoding":{"x":{"field":"month","type":"quantitative","title":null},"y":{"field":"value","type":"quantitative","title":null},"shape":{"field":"cytokine","type":"nominal","scale":{"domain":["IFN-γ","IL-2","MIP-1β","TNF-a"],"range":["triangle-up","circle","square","triangle-down"]},"legend":null}}}
       ]},
      {"width":142,"height":141.7,"title":{"text":"Subject 2","offset":-6.45,"dx":8.3},
       "layer":[
        {"data":{"name":"art"},"mark":{"type":"rect","color":"#c3c3c3"},"encoding":{
          "x":{"field":"start","type":"quantitative","scale":{"domain":[-0.48,12.43],"nice":false,"zero":false},"axis":{"values":[0,1,2,3,4,5,6,7,8,9,10,11,12],"tickCount":100,"format":"d","title":null,"labelOverlap":false}},
          "x2":{"field":"end"},
          "y":{"datum":-0.02,"type":"quantitative","scale":{"domain":[-0.02,0.4],"nice":false,"zero":false},"axis":{"values":[0,0.05,0.1,0.15,0.2,0.25,0.3,0.35,0.4],"tickCount":100,"format":".2f","title":null,"labelFontSize":5.5,"labelOverlap":false}},
          "y2":{"datum":0.379}}},
        {"data":{"name":"cyto"},"transform":[{"filter":"datum.subject == 2"}],"mark":{"type":"line","color":"#1a1a1a","strokeWidth":0.8},"encoding":{"x":{"field":"month","type":"quantitative","title":null},"y":{"field":"value","type":"quantitative","title":null},"detail":{"field":"cytokine"}}},
        {"data":{"name":"cyto"},"transform":[{"filter":"datum.subject == 2"}],"mark":{"type":"point","filled":true,"size":30,"color":"#1a1a1a","opacity":1},"encoding":{"x":{"field":"month","type":"quantitative","title":null},"y":{"field":"value","type":"quantitative","title":null},"shape":{"field":"cytokine","type":"nominal","scale":{"domain":["IFN-γ","IL-2","MIP-1β","TNF-a"],"range":["triangle-up","circle","square","triangle-down"]},"legend":null}}}
       ]}
     ],"spacing":12.1,"resolve":{"scale":{"color":"independent","shape":"independent","fill":"independent"}}},
     {"width":142,"height":134,"title":{"text":"Subject 3","offset":-0.05,"dx":6.6},
       "layer":[
        {"data":{"name":"art"},"mark":{"type":"rect","color":"#c3c3c3"},"encoding":{
          "x":{"field":"start","type":"quantitative","scale":{"domain":[-0.55,12.49],"nice":false,"zero":false},"axis":{"values":[0,1,2,3,4,5,6,7,8,9,10,11,12],"tickCount":100,"format":"d","title":"Time (month)","titlePadding":2,"labelOverlap":false}},
          "x2":{"field":"end"},
          "y":{"datum":-0.021,"type":"quantitative","scale":{"domain":[-0.021,0.2],"nice":false,"zero":false},"axis":{"values":[0,0.05,0.1,0.15,0.2],"tickCount":100,"format":".2f","title":null,"labelFontSize":5.5,"labelOverlap":false}},
          "y2":{"datum":0.2}}},
        {"data":{"name":"cyto"},"transform":[{"filter":"datum.subject == 3"}],"mark":{"type":"line","color":"#1a1a1a","strokeWidth":0.8},"encoding":{"x":{"field":"month","type":"quantitative","title":null},"y":{"field":"value","type":"quantitative","title":null},"detail":{"field":"cytokine"}}},
        {"data":{"name":"cyto"},"transform":[{"filter":"datum.subject == 3"}],"mark":{"type":"point","filled":true,"size":30,"color":"#1a1a1a","opacity":1},"encoding":{"x":{"field":"month","type":"quantitative","title":null},"y":{"field":"value","type":"quantitative","title":null},"shape":{"field":"cytokine","type":"nominal","scale":{"domain":["IFN-γ","IL-2","MIP-1β","TNF-a"],"range":["triangle-up","circle","square","triangle-down"]},"legend":{"orient":"none","legendX":136.5,"legendY":27,"title":null,"symbolSize":30,"labelFontSize":7,"labelColor":"#222222","rowPadding":3,"symbolFillColor":"#1a1a1a"}}}}
       ]}
   ]}
  ]}
],"spacing":18.2,"resolve":{"scale":{"color":"independent","shape":"independent","fill":"independent"}}}
]
}
